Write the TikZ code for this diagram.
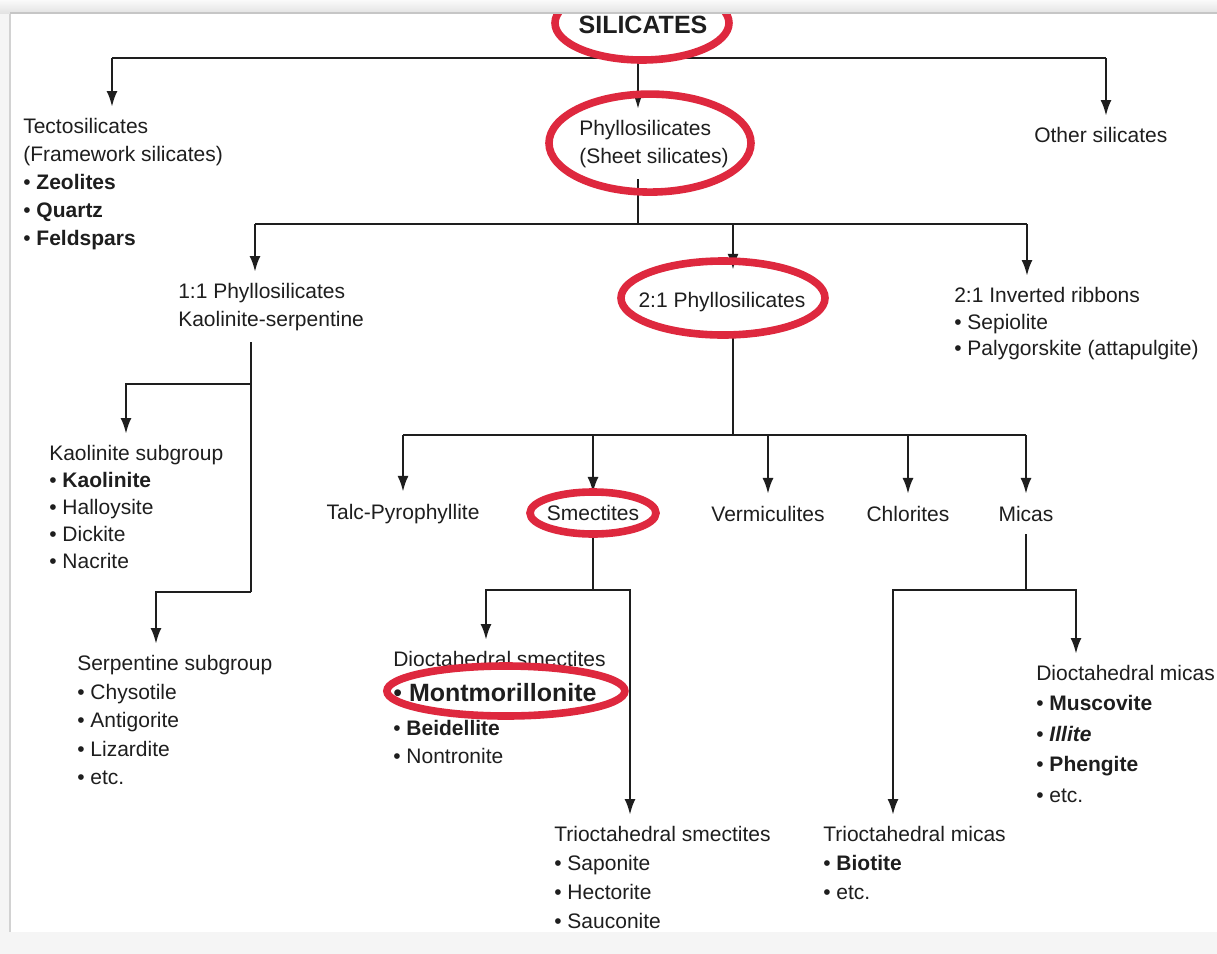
\documentclass[tikz,border=0pt]{standalone}
\usepackage{fontspec}
\setmainfont{Liberation Sans}
\usetikzlibrary{arrows.meta}
\definecolor{hlred}{RGB}{222,40,62}
\definecolor{ink}{RGB}{30,30,30}

\begin{document}
\begin{tikzpicture}[
  x=0.5pt, y=-0.5pt,
  font=\fontsize{10.5}{14}\selectfont,
  text=ink, draw=ink,
  >={Latex[length=8pt,width=5.5pt]},
  line width=1.3pt,
  lbl/.style={anchor=north west, align=left, inner xsep=0pt, inner ysep=5pt},
  row/.style={inner xsep=0pt, inner ysep=5.5pt},
  hl/.style={draw=hlred, line width=3.8pt},
]
\useasboundingbox (0,0) rectangle (1217,954);
\fill[gray!8] (0,0) rectangle (1217,954);
\fill[white] (10,13) rectangle (1217,932);
\draw[gray!35, line width=1pt] (10,932) -- (10,13);

% top level
\node[font=\fontsize{12.5}{15}\selectfont\bfseries] (sil) at (643,25) {SILICATES};
\node[lbl] (tecto) at (22,107) {Tectosilicates\\(Framework silicates)\\%
  • \textbf{Zeolites}\\• \textbf{Quartz}\\• \textbf{Feldspars}};
\node[lbl] (phyl) at (578,109) {Phyllosilicates\\(Sheet silicates)};
\node[lbl] (other) at (1033,116) {Other silicates};

\coordinate (jt) at (112,58);
\coordinate (jp) at (638,58);
\coordinate (jo) at (1106,58);
\draw (jt) -- (jo);
\foreach \j/\n in {jt/tecto, jp/phyl, jo/other} {
  \draw[->] (\j) -- (\j |- \n.north);
}

% phyllosilicates
\node[lbl] (p11) at (177,272) {1:1 Phyllosilicates\\Kaolinite-serpentine};
\node[inner xsep=0pt, inner ysep=10.5pt] (p21) at (722,302) {2:1 Phyllosilicates};
\node[lbl, font=\fontsize{10.5}{13.3}\selectfont] (rib) at (953,276)
  {2:1 Inverted ribbons\\• Sepiolite\\• Palygorskite (attapulgite)};

\coordinate (jq) at (638,224);
\coordinate (j11) at (255,224);
\coordinate (j21) at (733,224);
\coordinate (jr) at (1027,224);
\draw (jq |- phyl.south) -- (jq);
\draw (j11) -- (jr);
\foreach \j/\n in {j11/p11, j21/p21, jr/rib} {
  \draw[->] (\j) -- (\j |- \n.north);
}

% 1:1 branch
\node[lbl, font=\fontsize{10.5}{13.5}\selectfont] (kaol) at (48,434)
  {Kaolinite subgroup\\• \textbf{Kaolinite}\\• Halloysite\\• Dickite\\• Nacrite};
\node[lbl, font=\fontsize{10.5}{14.3}\selectfont] (serp) at (76,644)
  {Serpentine subgroup\\• Chysotile\\• Antigorite\\• Lizardite\\• etc.};
\coordinate (k1) at (251,384);
\coordinate (k2) at (251,592);
\coordinate (ka) at (126,384);
\coordinate (sa) at (156,592);
\draw (k1 |- p11.south) -- (k2);
\draw[->] (k1) -- (ka) -- (ka |- kaol.north);
\draw[->] (k2) -- (sa) -- (sa |- serp.north);

% 2:1 groups
\node[row] (talc) at (403,514) {Talc-Pyrophyllite};
\node[row] (sme) at (593,513) {Smectites};
\node[row] (ver) at (768,514) {Vermiculites};
\node[row] (chl) at (908,514) {Chlorites};
\node[row] (mic) at (1026,514) {Micas};
\coordinate (bar3) at (733,435);
\draw (bar3 |- p21.south) -- (bar3);
\draw (talc |- bar3) -- (mic |- bar3);
\foreach \n in {talc,sme,ver,chl,mic} {
  \draw[->] (\n |- bar3) -- (\n.north);
}

% smectites
\node[lbl] (dsm) at (392,640) {Dioctahedral smectites};
\node[lbl] (dsm2) at (392,709) {• \textbf{Beidellite}\\• Nontronite};
\node[anchor=west, inner sep=0pt, font=\fontsize{12.5}{15}\selectfont] (mont) at (392,693)
  {• \textbf{Montmorillonite}};
\node[lbl, font=\fontsize{10.5}{14.5}\selectfont] (tsm) at (553,815)
  {Trioctahedral smectites\\• Saponite\\• Hectorite\\• Sauconite};
\coordinate (s0) at (593,590);
\coordinate (sl) at (486,590);
\coordinate (sr) at (630,590);
\draw (s0 |- sme.south) -- (s0);
\draw[->] (s0) -- (sl) -- (sl |- dsm.north);
\draw[->] (s0) -- (sr) -- (sr |- tsm.north);

% micas
\node[lbl, font=\fontsize{10.5}{15.2}\selectfont] (dmi) at (1035,654)
  {Dioctahedral micas\\• \textbf{Muscovite}\\• \textbf{\textit{Illite}}\\• \textbf{Phengite}\\• etc.};
\node[lbl, font=\fontsize{10.5}{14.5}\selectfont] (tmi) at (822,815)
  {Trioctahedral micas\\• \textbf{Biotite}\\• etc.};
\coordinate (m0) at (1026,590);
\coordinate (ml) at (893,590);
\coordinate (mr) at (1076,590);
\draw (m0 |- mic.south) -- (m0);
\draw[->] (m0) -- (mr) -- (mr |- dmi.north);
\draw[->] (m0) -- (ml) -- (ml |- tmi.north);

% red highlights
\draw[hl] ([shift={(-1,-2)}]sil.center) ellipse [x radius=87, y radius=37];
\draw[hl] ([shift={(-4,-1)}]phyl.center) ellipse [x radius=101, y radius=49];
\draw[hl] ([shift={(1,-4)}]p21.center) ellipse [x radius=102, y radius=37];
\draw[hl] (sme.center) ellipse [x radius=63, y radius=21];
\draw[hl] ([shift={(11,-2)}]mont.center) ellipse [x radius=119, y radius=25];

% window edge
\shade[top color=gray!4, bottom color=gray!22] (0,0) rectangle (1217,13);
\draw[gray!45, line width=1pt] (10,13) -- (1217,13);
\end{tikzpicture}
\end{document}
